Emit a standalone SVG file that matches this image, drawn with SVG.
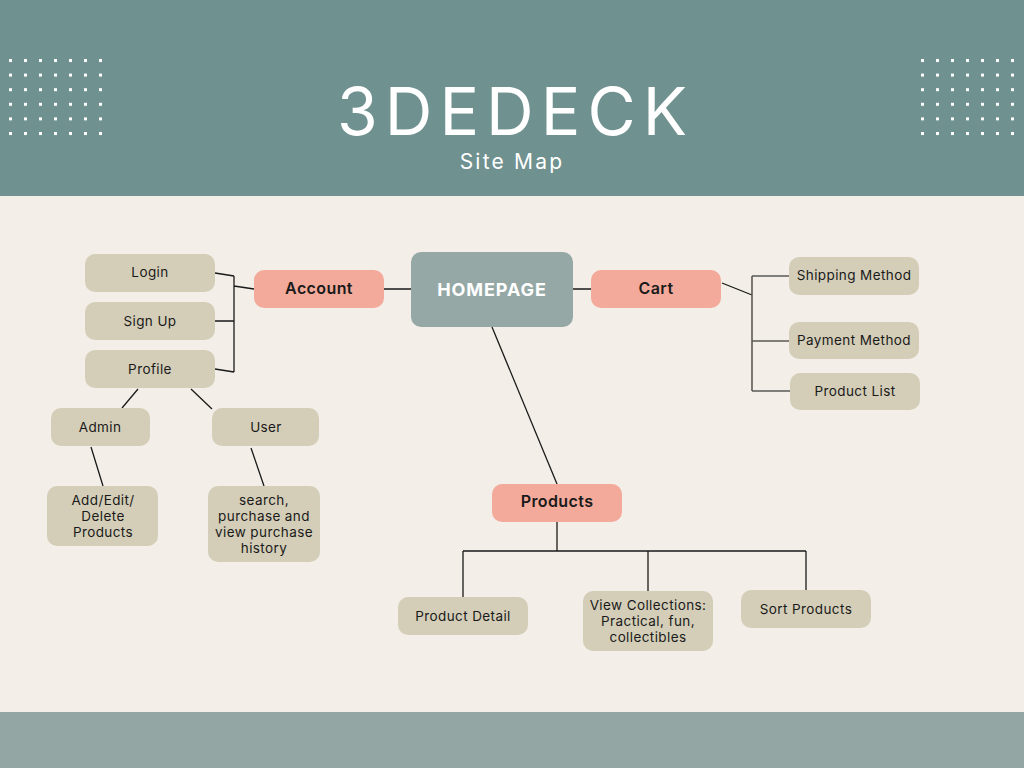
<svg xmlns="http://www.w3.org/2000/svg" width="1024" height="768" viewBox="0 0 1024 768">
<defs>
<style>
.bg{fill:#f3efe8}
.hdr{fill:#6f918f}
.ftr{fill:#94a6a4}
.dot{fill:#ffffff}
.leaf{fill:#d4ceb8}
.main{fill:#f3aa9a}
.home{fill:#95a8a6}
.t{font-family:Inter,"Noto Sans","Liberation Sans",sans-serif;font-size:13.5px;letter-spacing:0.4px;fill:#1a1a1a;text-anchor:middle}
.tb{font-family:Inter,"Noto Sans","Liberation Sans",sans-serif;font-size:16px;letter-spacing:0.4px;font-weight:600;fill:#1a1a1a;text-anchor:middle}
.ln{stroke:#1a1a1a;stroke-width:1.3;fill:none}
.lg{stroke:#5a5a55;stroke-width:1.6;fill:none}
</style>
<pattern id="dotsL" x="9" y="59" width="15" height="14.6" patternUnits="userSpaceOnUse">
<rect x="0" y="0" width="3" height="3" class="dot"/>
</pattern>
<pattern id="dotsR" x="921" y="59" width="15" height="14.6" patternUnits="userSpaceOnUse">
<rect x="0" y="0" width="3" height="3" class="dot"/>
</pattern>
</defs>
<rect class="bg" x="0" y="0" width="1024" height="768"/>
<rect class="hdr" x="0" y="0" width="1024" height="196"/>
<rect class="ftr" x="0" y="712" width="1024" height="56"/>
<rect x="9" y="59" width="96" height="78" fill="url(#dotsL)"/>
<rect x="921" y="59" width="96" height="78" fill="url(#dotsR)"/>
<text x="512" y="135" font-family="Inter,'Noto Sans','Liberation Sans',sans-serif" font-size="66" font-weight="400" fill="#ffffff" text-anchor="middle" textLength="350" lengthAdjust="spacing">3DEDECK</text>
<text x="512" y="169" font-family="Inter,'Noto Sans','Liberation Sans',sans-serif" font-size="21" fill="#ffffff" text-anchor="middle" letter-spacing="2.2">Site Map</text>

<g id="connectors">
<path class="ln" d="M215,273 L234,276 M234,276 V372 M215,321 H234 M215,369 L234,372 M234,286 L254,289"/>
<path class="ln" d="M383,289 H411 M573,289 H591"/>
<path class="ln" d="M722,283 L752,295"/>
<path class="lg" d="M752,276 V391 M752,276 H789 M752,341 H789 M752,391 H790"/>
<path class="ln" d="M492,327 L557,484"/>
<path class="ln" d="M557,522 V551 M463,551 H806 M463,551 V597 M648,551 V591 M806,551 V590"/>
<path class="ln" d="M138,389 L122,408 M191,389 L212,409 M91,447 L103,486 M251,448 L264,486"/>
</g>

<g id="homepage"><rect class="home" x="411" y="252" width="162" height="75" rx="10"/><text class="tb" x="492" y="296" style="fill:#ffffff;font-size:18px;font-weight:700;letter-spacing:0.9px">HOMEPAGE</text></g>
<g id="account"><rect class="main" x="254" y="270" width="130" height="38" rx="10"/><text class="tb" x="319" y="294">Account</text></g>
<g id="cart"><rect class="main" x="591" y="270" width="130" height="38" rx="10"/><text class="tb" x="656" y="294">Cart</text></g>
<g id="products"><rect class="main" x="492" y="484" width="130" height="38" rx="10"/><text class="tb" x="557" y="507">Products</text></g>

<g id="login"><rect class="leaf" x="85" y="254" width="130" height="38" rx="10"/><text class="t" x="150" y="277">Login</text></g>
<g id="signup"><rect class="leaf" x="85" y="302" width="130" height="38" rx="10"/><text class="t" x="150" y="326">Sign Up</text></g>
<g id="profile"><rect class="leaf" x="85" y="350" width="130" height="38" rx="10"/><text class="t" x="150" y="374">Profile</text></g>
<g id="admin"><rect class="leaf" x="51" y="408" width="99" height="38" rx="10"/><text class="t" x="100" y="432">Admin</text></g>
<g id="user"><rect class="leaf" x="212" y="408" width="107" height="38" rx="10"/><text class="t" x="266" y="432">User</text></g>
<g id="addedit"><rect class="leaf" x="47" y="486" width="111" height="60" rx="10"/><text class="t" x="103" y="505">Add/Edit/</text><text class="t" x="103" y="521">Delete</text><text class="t" x="103" y="537">Products</text></g>
<g id="search"><rect class="leaf" x="208" y="486" width="112" height="76" rx="10"/><text class="t" x="264" y="505">search,</text><text class="t" x="264" y="521">purchase and</text><text class="t" x="264" y="537">view purchase</text><text class="t" x="264" y="553">history</text></g>

<g id="shipping"><rect class="leaf" x="789" y="257" width="130" height="38" rx="10"/><text class="t" x="854" y="280">Shipping Method</text></g>
<g id="payment"><rect class="leaf" x="789" y="322" width="130" height="37" rx="10"/><text class="t" x="854" y="345">Payment Method</text></g>
<g id="productlist"><rect class="leaf" x="790" y="373" width="130" height="37" rx="10"/><text class="t" x="855" y="396">Product List</text></g>

<g id="productdetail"><rect class="leaf" x="398" y="597" width="130" height="38" rx="10"/><text class="t" x="463" y="621">Product Detail</text></g>
<g id="collections"><rect class="leaf" x="583" y="591" width="130" height="60" rx="10"/><text class="t" x="648" y="610">View Collections:</text><text class="t" x="648" y="626">Practical, fun,</text><text class="t" x="648" y="642">collectibles</text></g>
<g id="sort"><rect class="leaf" x="741" y="590" width="130" height="38" rx="10"/><text class="t" x="806" y="614">Sort Products</text></g>
</svg>
